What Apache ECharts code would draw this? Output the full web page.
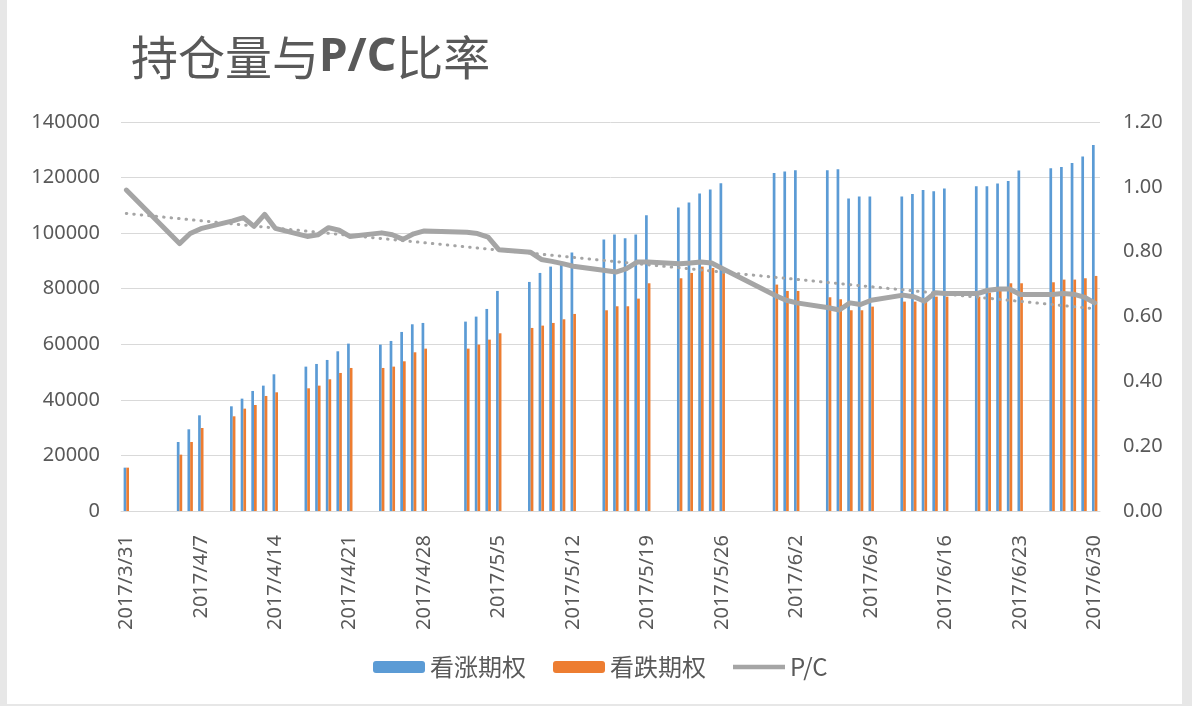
<!DOCTYPE html>
<html>
<head>
<meta charset="utf-8">
<title>持仓量与P/C比率</title>
<script src="https://cdn.jsdelivr.net/npm/echarts@6/dist/echarts.min.js"></script>
<style>
  html, body { margin: 0; padding: 0; background: #e7e7e7; }
  #frame { position: absolute; left: 7px; top: 0; width: 1175px; height: 704px; background: #fff; }
  #main { position: absolute; left: 0; top: 0; width: 1192px; height: 706px; }
</style>
</head>
<body>
<div id="frame"></div>
<div id="main"></div>
<script>
// trading days (weeks), 2017
var tradeDates = [
  '2017/3/31',
  '2017/4/5', '2017/4/6', '2017/4/7',
  '2017/4/10', '2017/4/11', '2017/4/12', '2017/4/13', '2017/4/14',
  '2017/4/17', '2017/4/18', '2017/4/19', '2017/4/20', '2017/4/21',
  '2017/4/24', '2017/4/25', '2017/4/26', '2017/4/27', '2017/4/28',
  '2017/5/2', '2017/5/3', '2017/5/4', '2017/5/5',
  '2017/5/8', '2017/5/9', '2017/5/10', '2017/5/11', '2017/5/12',
  '2017/5/15', '2017/5/16', '2017/5/17', '2017/5/18', '2017/5/19',
  '2017/5/22', '2017/5/23', '2017/5/24', '2017/5/25', '2017/5/26',
  '2017/5/31', '2017/6/1', '2017/6/2',
  '2017/6/5', '2017/6/6', '2017/6/7', '2017/6/8', '2017/6/9',
  '2017/6/12', '2017/6/13', '2017/6/14', '2017/6/15', '2017/6/16',
  '2017/6/19', '2017/6/20', '2017/6/21', '2017/6/22', '2017/6/23',
  '2017/6/26', '2017/6/27', '2017/6/28', '2017/6/29', '2017/6/30'
];

// 看涨期权 持仓量
var callOI = [
  15600,
  24840, 29400, 34440,
  37680, 40440, 43200, 45120, 49200,
  51960, 52920, 54360, 57480, 60240,
  59880, 61200, 64440, 67200, 67680,
  68160, 69960, 72720, 79200,
  82440, 85680, 87960, 88920, 93000,
  97680, 99480, 98160, 99480, 106440,
  109200, 111000, 114240, 115680, 117960,
  121680, 122160, 122640,
  122640, 123000, 112440, 113160, 113160,
  113160, 114120, 115560, 115080, 116040,
  116880, 116880, 117840, 118800, 122520,
  123360, 123840, 125280, 127560, 131760
];

// 看跌期权 持仓量
var putOI = [
  15600,
  20280, 24840, 29880,
  34080, 36840, 38160, 41400, 42720,
  44160, 45120, 47400, 49680, 51480,
  51480, 51960, 53880, 57120, 58440,
  58440, 59880, 61680, 63960,
  65880, 66720, 67680, 69000, 70920,
  72240, 73680, 73680, 76440, 81960,
  83760, 85680, 87960, 87480, 87480,
  81480, 79200, 79200,
  76920, 76200, 72240, 72240, 73560,
  75360, 75360, 75360, 77160, 77160,
  77160, 78600, 79680, 81960, 81960,
  82320, 83280, 83280, 83760, 84600
];

// P/C
var pcRatio = [
  0.99,
  0.825, 0.856, 0.871,
  0.895, 0.905, 0.878, 0.915, 0.872,
  0.847, 0.852, 0.874, 0.866, 0.847,
  0.858, 0.852, 0.838, 0.855, 0.864,
  0.860, 0.856, 0.845, 0.806,
  0.798, 0.776, 0.770, 0.763, 0.755,
  0.742, 0.737, 0.748, 0.768, 0.768,
  0.763, 0.765, 0.768, 0.765, 0.748,
  0.665, 0.650, 0.642,
  0.627, 0.620, 0.642, 0.637, 0.650,
  0.666, 0.661, 0.647, 0.673, 0.671,
  0.671, 0.681, 0.685, 0.685, 0.668,
  0.668, 0.671, 0.669, 0.660, 0.642
];

// 线性趋势线 两端 (3/31, 6/30)
var trendEnds = [0.918, 0.624];

// date axis: every calendar day 3/31 - 6/30
var categories = [];
var d = new Date(2017, 2, 31);
var end = new Date(2017, 5, 30);
while (d <= end) {
  categories.push(d.getFullYear() + '/' + (d.getMonth() + 1) + '/' + d.getDate());
  d.setDate(d.getDate() + 1);
}

function onAxis(values) {
  return categories.map(function (c) {
    var i = tradeDates.indexOf(c);
    return i < 0 ? null : values[i];
  });
}

var trendData = categories.map(function (c, i) {
  if (i === 0) return trendEnds[0];
  if (i === categories.length - 1) return trendEnds[1];
  return null;
});

var labelColor = '#595959';
var gridColor = '#d9d9d9';

var myChart = echarts.init(document.getElementById('main'));
var option = {
  animation: false,
  backgroundColor: 'transparent',
  title: {
    text: '持仓量与{b|P/C}比率',
    left: 126,
    top: 29,
    textStyle: {
      fontFamily: 'Noto Sans CJK SC',
      fontSize: 47,
      fontWeight: 'normal',
      color: labelColor,
      rich: {
        b: {
          fontFamily: 'Noto Sans',
          fontSize: 46,
          fontWeight: 'bold',
          color: labelColor
        }
      }
    }
  },
  legend: {
    left: 373,
    top: 655,
    padding: 0,
    itemWidth: 52,
    itemHeight: 12,
    itemGap: 27,
    data: [
      { name: '看涨期权' },
      { name: '看跌期权' },
      { name: 'P/C', icon: 'path://M0,0 L52,0 L52,4.5 L0,4.5 Z' }
    ],
    textStyle: {
      fontFamily: 'Noto Sans CJK SC',
      fontSize: 24,
      color: labelColor
    }
  },
  grid: {
    left: 121,
    right: 92,
    top: 122,
    bottom: 195
  },
  xAxis: {
    type: 'category',
    data: categories,
    boundaryGap: true,
    axisLine: { lineStyle: { color: gridColor, width: 1 } },
    axisTick: { interval: 6, length: 6, lineStyle: { color: gridColor } },
    axisLabel: {
      interval: 6,
      rotate: 90,
      margin: 24,
      fontFamily: 'Noto Sans',
      fontSize: 20,
      color: labelColor
    },
    splitLine: { show: false }
  },
  yAxis: [{
    type: 'value',
    min: 0,
    max: 140000,
    interval: 20000,
    axisLine: { show: false },
    axisTick: { show: false },
    axisLabel: {
      margin: 21,
      fontFamily: 'Noto Sans',
      fontSize: 20,
      color: labelColor,
      formatter: function (v) { return String(v); }
    },
    splitLine: { lineStyle: { color: gridColor, width: 1 } }
  }, {
    type: 'value',
    min: 0,
    max: 1.2,
    interval: 0.2,
    axisLine: { show: false },
    axisTick: { show: false },
    axisLabel: {
      margin: 23,
      fontFamily: 'Noto Sans',
      fontSize: 20,
      color: labelColor,
      formatter: function (v) { return v.toFixed(2); }
    },
    splitLine: { show: false }
  }],
  series: [{
    name: '看涨期权',
    type: 'bar',
    data: onAxis(callOI),
    barWidth: 2.7,
    barGap: '0%',
    itemStyle: { color: '#5b9bd5' }
  }, {
    name: '看跌期权',
    type: 'bar',
    data: onAxis(putOI),
    barWidth: 2.7,
    barGap: '0%',
    itemStyle: { color: '#ed7d31' }
  }, {
    name: 'P/C',
    type: 'line',
    yAxisIndex: 1,
    data: onAxis(pcRatio),
    connectNulls: true,
    symbol: 'none',
    itemStyle: { color: '#a5a5a5' },
    lineStyle: { color: '#a5a5a5', width: 5, join: 'round', cap: 'round' }
  }, {
    name: '线性 (P/C)',
    type: 'line',
    yAxisIndex: 1,
    data: trendData,
    connectNulls: true,
    symbol: 'none',
    silent: true,
    lineStyle: { color: '#a5a5a5', width: 3, type: [0.5, 7], cap: 'round' }
  }]
};
myChart.setOption(option);
</script>
</body>
</html>
